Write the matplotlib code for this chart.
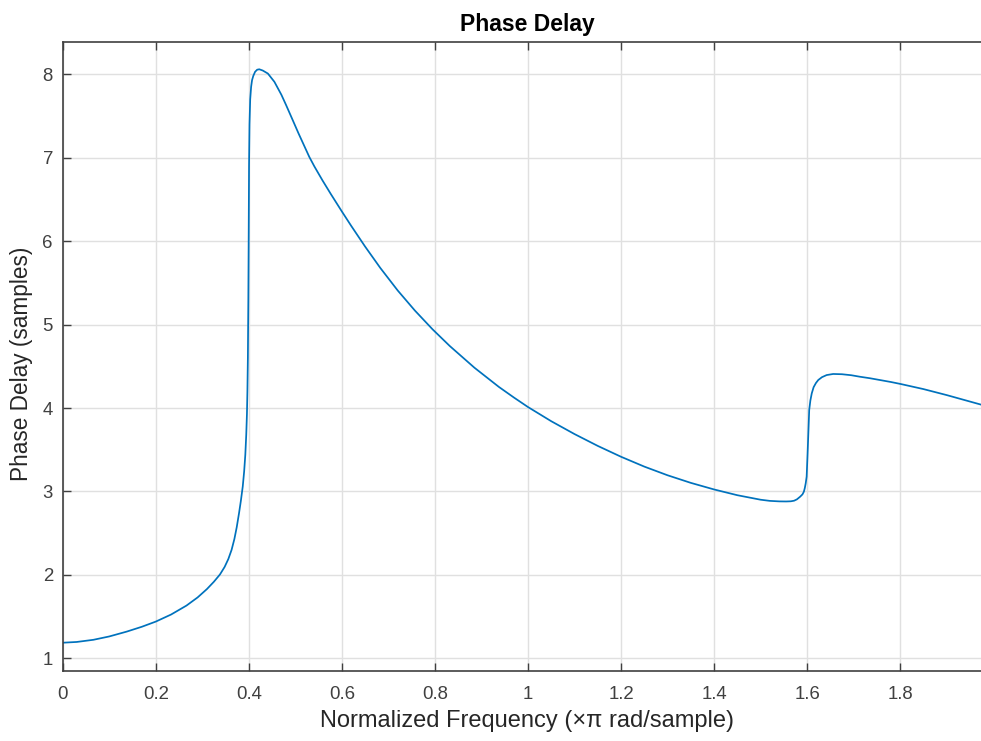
import matplotlib
matplotlib.use("Agg")
import matplotlib.pyplot as plt

# Normalized frequency (x pi rad/sample) and phase delay (samples)
freq = [0.000, 0.030, 0.066, 0.100, 0.1375, 0.170, 0.200, 0.233, 0.266, 0.290,
        0.310, 0.325, 0.338, 0.348, 0.356, 0.363, 0.369, 0.374, 0.379, 0.383,
        0.387, 0.390, 0.3925, 0.3945, 0.396, 0.397, 0.398, 0.399, 0.3998, 0.4005,
        0.4015, 0.403, 0.405, 0.407, 0.4096, 0.4135, 0.418, 0.4225, 0.430, 0.441,
        0.455, 0.470, 0.480, 0.495, 0.507, 0.519, 0.530, 0.541, 0.5585, 0.5765,
        0.600, 0.620, 0.650, 0.6825, 0.720, 0.757, 0.795, 0.832, 0.885, 0.9375,
        0.970, 1.000, 1.050, 1.100, 1.150, 1.200, 1.250, 1.300, 1.350, 1.400,
        1.450, 1.500, 1.520, 1.540, 1.555, 1.565, 1.572, 1.578, 1.585, 1.590,
        1.593, 1.595, 1.597, 1.599, 1.601, 1.603, 1.6045, 1.607, 1.610, 1.614,
        1.619, 1.624, 1.632, 1.642, 1.656, 1.675, 1.695, 1.7135, 1.735, 1.756,
        1.780, 1.801, 1.850, 1.900, 1.971, 1.985]
delay = [1.187, 1.196, 1.222, 1.262, 1.320, 1.378, 1.440, 1.525, 1.632, 1.730,
         1.830, 1.918, 2.005, 2.095, 2.190, 2.300, 2.430, 2.570, 2.740, 2.890,
         3.060, 3.240, 3.440, 3.680, 3.930, 4.200, 4.600, 5.300, 6.100, 6.900,
         7.400, 7.700, 7.850, 7.930, 7.980, 8.030, 8.055, 8.060, 8.045, 8.009,
         7.910, 7.755, 7.633, 7.443, 7.290, 7.144, 7.010, 6.895, 6.727, 6.563,
         6.356, 6.184, 5.935, 5.680, 5.409, 5.168, 4.943, 4.743, 4.483, 4.253,
         4.125, 4.012, 3.842, 3.688, 3.546, 3.416, 3.298, 3.194, 3.103, 3.024,
         2.955, 2.901, 2.887, 2.881, 2.880, 2.882, 2.889, 2.905, 2.937, 2.965,
         2.997, 3.040, 3.098, 3.177, 3.450, 3.750, 3.976, 4.090, 4.176, 4.250,
         4.300, 4.336, 4.370, 4.395, 4.408, 4.405, 4.393, 4.375, 4.357, 4.336,
         4.312, 4.288, 4.227, 4.155, 4.045, 4.022]

xticks = [0, 0.2, 0.4, 0.6, 0.8, 1.0, 1.2, 1.4, 1.6, 1.8]
xticklabels = ["0", "0.2", "0.4", "0.6", "0.8", "1", "1.2", "1.4", "1.6", "1.8"]
yticks = [1, 2, 3, 4, 5, 6, 7, 8]

plt.rcParams['font.family'] = ['Liberation Sans', 'DejaVu Sans']

fig = plt.figure(figsize=(9.81, 7.41), dpi=100)
ax = fig.add_axes([62.7 / 981, 70 / 741, 928.7 / 981, 629 / 741])

ax.plot(freq, delay, color='#0072BD', lw=1.25)

ax.set_xlim(0, 1.99609375)
ax.set_ylim(0.848, 8.387)
ax.set_xticks(xticks)
ax.set_xticklabels(xticklabels)
ax.set_yticks(yticks)

axcol = '#262626'
for s in ax.spines.values():
    s.set_color('#404040')
    s.set_linewidth(1.2)
ax.tick_params(direction='in', length=6, width=1.0, color='#404040',
               labelcolor='#404040', labelsize=13.4, top=True, right=True)
ax.tick_params(axis='x', pad=11)
ax.tick_params(axis='y', pad=7)
ax.grid(True, color='#e0e0e0', lw=1.0)
ax.set_axisbelow(True)

ax.set_title('Phase Delay', fontsize=16.5, fontweight='bold', color='black', pad=8)
ax.set_xlabel('Normalized Frequency (\u00d7\u03c0 rad/sample)', fontsize=17, color=axcol, labelpad=5)
ax.set_ylabel('Phase Delay (samples)', fontsize=16.3, color=axcol)
ax.yaxis.set_label_coords(-0.032, 0.489)

fig.savefig('out.png', dpi=100)
